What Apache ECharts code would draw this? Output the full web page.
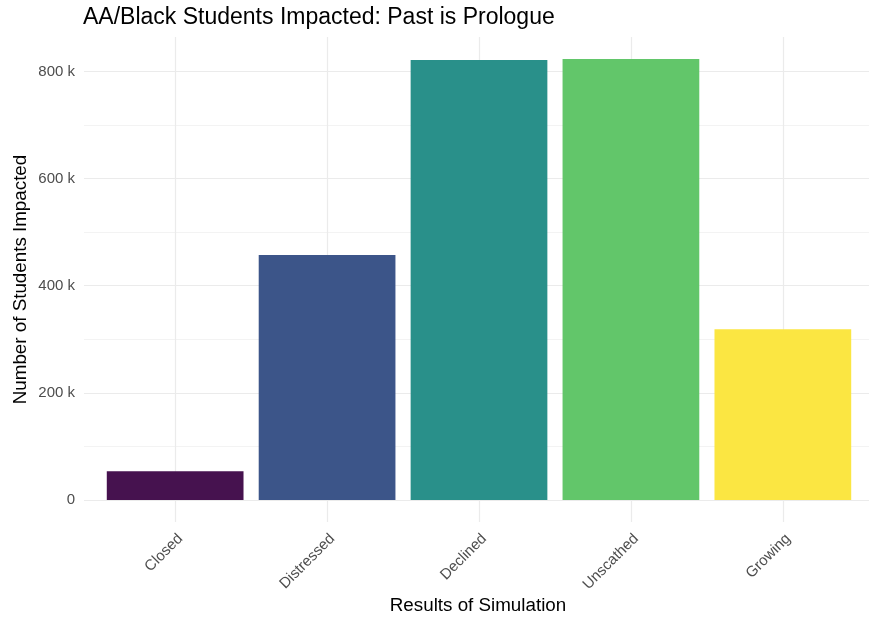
<!DOCTYPE html>
<html>
<head>
<meta charset="utf-8">
<script src="https://cdn.jsdelivr.net/npm/echarts@6/dist/echarts.min.js"></script>
<style>
  html, body { margin: 0; padding: 0; background: #ffffff; }
  #chart { width: 869px; height: 617px; }
</style>
</head>
<body>
<div id="chart"></div>
<script>
// Simulation outcome categories and the students counted in each
const categories = ['Closed', 'Distressed', 'Declined', 'Unscathed', 'Growing'];
const studentsImpacted = [53500, 457000, 821000, 823000, 318500];
const yTickValues = [0, 200000, 400000, 600000, 800000];
const yTickLabels = ['0', '200 k', '400 k', '600 k', '800 k'];

// viridis-style fill, one colour per outcome
const barColors = ['#46124f', '#3c5589', '#29908a', '#62c66a', '#fbe642'];

const W = 869, H = 617;
const FONT = '"Liberation Sans", Arial, Helvetica, sans-serif';

// Panel box (pixels); discrete x scale padded 0.6 band on each side,
// continuous y scale padded 5% of the data range on each side.
const panel = { left: 84, right: 874, top: 37, bottom: 522 };
const band = (panel.right - panel.left) / (categories.length + 0.2);
const yMaxData = Math.max(...studentsImpacted);
const yLo = -0.05 * yMaxData;
const yHi = 1.05 * yMaxData;
const yPix = v => panel.bottom - (v - yLo) / (yHi - yLo) * (panel.bottom - panel.top);

const yTickMin = yTickValues[0];
const yTickMax = yTickValues[yTickValues.length - 1];
const yTickStep = yTickValues[1] - yTickValues[0];

const chart = echarts.init(document.getElementById('chart'), null, { renderer: 'canvas' });

chart.setOption({
  backgroundColor: '#ffffff',
  animation: false,
  title: {
    text: 'AA/Black Students Impacted: Past is Prologue',
    left: panel.left - 1,
    top: 6,
    padding: 0,
    textStyle: { fontFamily: FONT, fontSize: 23, fontWeight: 'normal', color: '#000000' }
  },
  grid: [
    // horizontal grid lines and y tick labels over the full panel width
    {
      left: panel.left,
      width: W - panel.left,
      top: yPix(yTickMax),
      height: yPix(yTickMin) - yPix(yTickMax),
      containLabel: false
    },
    // bars and vertical grid lines on the category bands
    {
      left: panel.left + 0.1 * band,
      width: band * categories.length,
      top: panel.top,
      height: panel.bottom - panel.top,
      containLabel: false
    }
  ],
  xAxis: [
    { gridIndex: 0, type: 'value', show: false },
    {
      gridIndex: 1,
      type: 'category',
      data: categories,
      boundaryGap: true,
      axisLine: { show: false },
      axisTick: { show: false },
      splitLine: { show: true, alignWithLabel: true, lineStyle: { color: '#ebebeb', width: 1.2 } },
      axisLabel: {
        rotate: 45,
        margin: 9,
        verticalAlign: 'top',
        color: '#4d4d4d',
        fontFamily: FONT,
        fontSize: 15
      }
    }
  ],
  yAxis: [
    {
      gridIndex: 0,
      type: 'value',
      min: yTickMin,
      max: yTickMax,
      interval: yTickStep,
      axisLine: { show: false },
      axisTick: { show: false },
      minorTick: { show: false, splitNumber: 2 },
      splitLine: { show: true, lineStyle: { color: '#ebebeb', width: 1.2 } },
      minorSplitLine: { show: true, lineStyle: { color: '#f3f3f3', width: 1 } },
      axisLabel: {
        margin: 9,
        color: '#4d4d4d',
        fontFamily: FONT,
        fontSize: 15,
        formatter: v => {
          const i = yTickValues.indexOf(v);
          return i >= 0 ? yTickLabels[i] : '';
        }
      }
    },
    {
      gridIndex: 1,
      type: 'value',
      min: yLo,
      max: yHi,
      show: false,
      splitLine: { show: false }
    }
  ],
  series: [
    {
      type: 'bar',
      xAxisIndex: 1,
      yAxisIndex: 1,
      barWidth: '90%',
      data: studentsImpacted.map((v, i) => ({ value: v, itemStyle: { color: barColors[i] } }))
    }
  ],
  graphic: [
    {
      type: 'text',
      x: (panel.left + panel.right) / 2 - 1,
      y: 606,
      style: {
        text: 'Results of Simulation',
        font: '18.8px ' + FONT,
        fill: '#000000',
        align: 'center',
        verticalAlign: 'middle'
      }
    },
    {
      type: 'text',
      x: 21,
      y: (panel.top + panel.bottom) / 2,
      rotation: Math.PI / 2,
      style: {
        text: 'Number of Students Impacted',
        font: '18.8px ' + FONT,
        fill: '#000000',
        align: 'center',
        verticalAlign: 'middle'
      }
    }
  ]
});
</script>
</body>
</html>
